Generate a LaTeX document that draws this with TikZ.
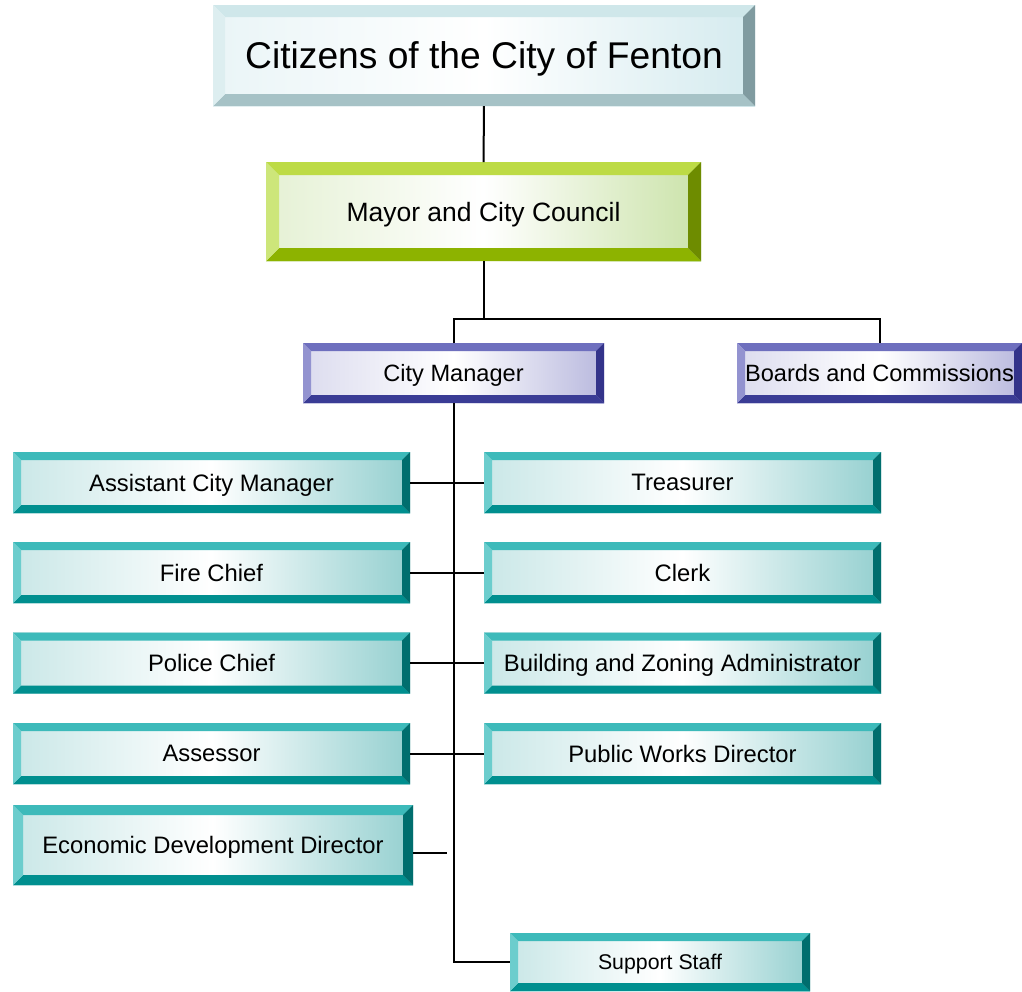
\documentclass[tikz,border=0pt]{standalone}
\usepackage{fontspec}
\setmainfont{Liberation Sans}
\definecolor{citTop}{HTML}{CFE7EA}
\definecolor{citLeft}{HTML}{DDEEF0}
\definecolor{citRight}{HTML}{809BA0}
\definecolor{citBot}{HTML}{A6C2C6}
\definecolor{citFace}{HTML}{B8DDE4}
\definecolor{limeTop}{HTML}{BDDB45}
\definecolor{limeLeft}{HTML}{CDE67A}
\definecolor{limeRight}{HTML}{6E8C00}
\definecolor{limeBot}{HTML}{8DB300}
\definecolor{limeFace}{HTML}{A8D070}
\definecolor{blueTop}{HTML}{6E6FBE}
\definecolor{blueLeft}{HTML}{9393D0}
\definecolor{blueRight}{HTML}{33338A}
\definecolor{blueBot}{HTML}{3A3C95}
\definecolor{blueFace}{HTML}{8A8AC8}
\definecolor{tealTop}{HTML}{3DBABA}
\definecolor{tealLeft}{HTML}{6CCDCD}
\definecolor{tealRight}{HTML}{006E6E}
\definecolor{tealBot}{HTML}{008F8F}
\definecolor{tealFace}{HTML}{4DB0B0}
\tikzset{
  bevel/.style 2 args={
    inner sep=0pt, outer sep=0pt, text=black, text depth=0pt,
    left color=#1Face!30, right color=#1Face!60, middle color=white,
    path picture={
      \coordinate (bnw) at (path picture bounding box.north west);
      \coordinate (bne) at (path picture bounding box.north east);
      \coordinate (bsw) at (path picture bounding box.south west);
      \coordinate (bse) at (path picture bounding box.south east);
      \fill[#1Top] (bnw)--(bne)--([shift={(-#2pt,-#2pt)}]bne)--([shift={(#2pt,-#2pt)}]bnw)--cycle;
      \fill[#1Bot] (bsw)--(bse)--([shift={(-#2pt,#2pt)}]bse)--([shift={(#2pt,#2pt)}]bsw)--cycle;
      \fill[#1Left] (bnw)--(bsw)--([shift={(#2pt,#2pt)}]bsw)--([shift={(#2pt,-#2pt)}]bnw)--cycle;
      \fill[#1Right] (bne)--(bse)--([shift={(-#2pt,#2pt)}]bse)--([shift={(-#2pt,-#2pt)}]bne)--cycle;
    }},
  dept/.style={bevel={teal}{8}, minimum width=397pt, minimum height=61pt,
    font=\fontsize{23.8}{28}\selectfont},
  link/.style={draw=black, line width=2pt}
}
\begin{document}
\begin{tikzpicture}[x=1pt,y=-1pt]
  \useasboundingbox (0,0) rectangle (1022,991);
  % top of the chart
  \node[bevel={cit}{12}, minimum width=542pt, minimum height=101pt,
    font=\fontsize{37.2}{42}\selectfont] (citizens) at (484,55.5) {Citizens of the City of Fenton};
  \node[bevel={lime}{13}, minimum width=435pt, minimum height=99pt,
    font=\fontsize{26.5}{30}\selectfont] (council) at (483.5,211.5) {Mayor and City Council};
  \node[bevel={blue}{8}, minimum width=301pt, minimum height=60pt,
    font=\fontsize{23.6}{28}\selectfont] (manager) at (453.5,373) {City Manager};
  \node[bevel={blue}{8}, minimum width=285pt, minimum height=60pt,
    font=\fontsize{23.6}{28}\selectfont] (boards) at (879.5,373) {Boards and Commissions};
  % departments
  \node[dept] (asst) at (211.5,482.5) {Assistant City Manager};
  \node[dept] (treasurer) at (682.5,482.5) {Treasurer};
  \node[dept] (fire) at (211.5,572.5) {Fire Chief};
  \node[dept] (clerk) at (682.5,572.5) {Clerk};
  \node[dept] (police) at (211.5,663) {Police Chief};
  \node[dept] (building) at (682.5,663) {Building and Zoning Administrator};
  \node[dept] (assessor) at (211.5,753.5) {Assessor};
  \node[dept] (works) at (682.5,753.5) {Public Works Director};
  \node[dept, bevel={teal}{10}, minimum width=400pt, minimum height=80pt] (econ) at (213,845) {Economic Development Director};
  \node[dept, minimum width=300pt, minimum height=58pt,
    font=\fontsize{21.3}{25}\selectfont] (support) at (660,962) {Support Staff};
  % connectors
  \coordinate (bar) at (483.5,319);
  \coordinate (econstub) at (447,853);
  \draw[link] (citizens) -- (council);
  \draw[link] (council) -- (bar);
  \draw[link] (manager.north) |- (bar) -| (boards.north);
  \draw[link] (manager.south) |- (support.west);
  \foreach \left/\right in {asst/treasurer,fire/clerk,police/building,assessor/works}
    \draw[link] (\left.east) -- (\right.west);
  \draw[link] ([yshift=-8pt]econ.east) -- (econstub);
\end{tikzpicture}
\end{document}
